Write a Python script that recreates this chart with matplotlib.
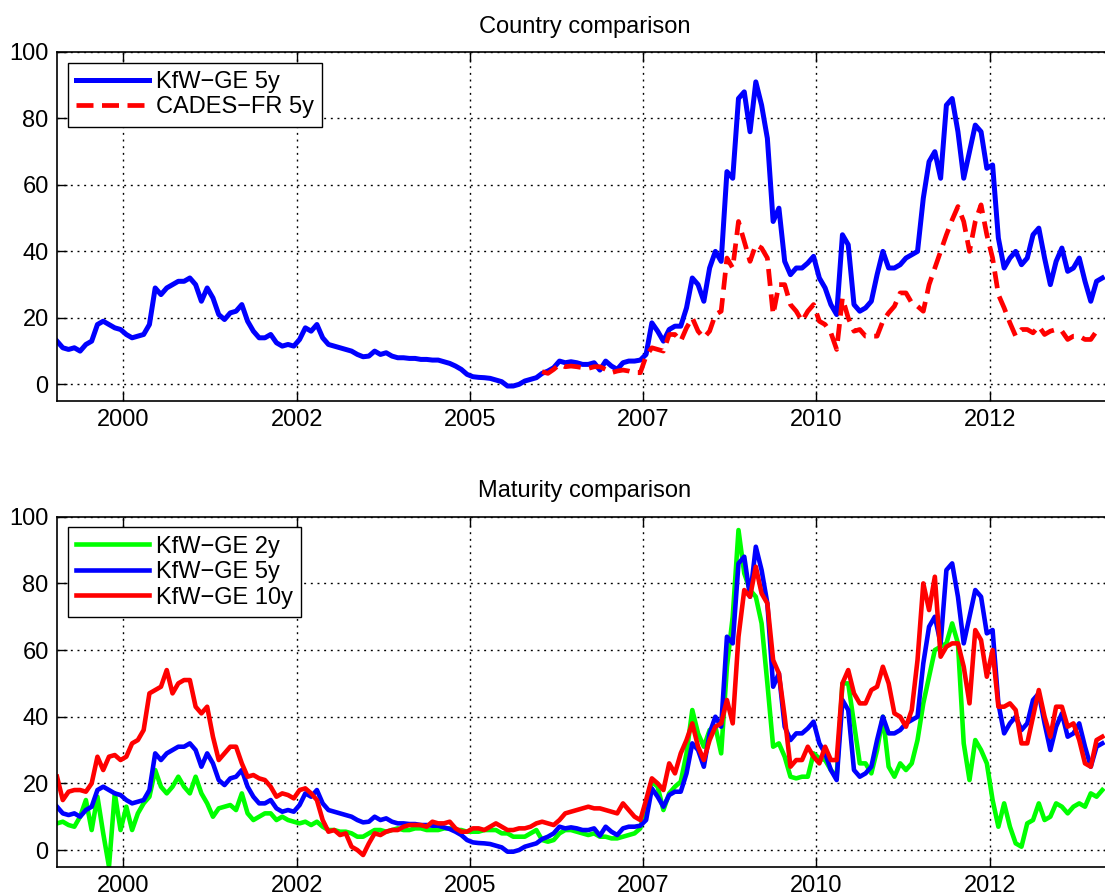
import numpy as np
import matplotlib.pyplot as plt

plt.rcParams['font.family'] = ['Liberation Sans', 'DejaVu Sans']

# Monthly spreads in bp, Jan 1999 - Feb 2014
kfw_5y = [13, 11, 10.5, 11, 10, 12, 13, 18, 19, 18,
          17, 16.5, 15, 14, 14.5, 15, 18, 29, 27, 29,
          30, 31, 31, 32, 30, 25, 29, 26, 21, 19.5,
          21.5, 22, 24, 19, 16, 14, 14, 15, 12.5, 11.5,
          12, 11.5, 13.5, 17, 16, 18, 14, 12, 11.5, 11,
          10.5, 10, 9, 8.3, 8.5, 10, 9, 9.5, 8.5, 8,
          8, 7.8, 7.8, 7.5, 7.5, 7.3, 7.3, 6.8, 6.3, 5.5,
          4.5, 3, 2.3, 2.1, 2, 1.8, 1.3, 0.8, -0.5, -0.5,
          0, 1, 1.5, 2, 3.3, 4, 5, 7, 6.5, 6.8,
          6.5, 6, 6, 6.5, 4.3, 7, 5.5, 4.5, 6.5, 7,
          7, 7.3, 9, 18.5, 16, 13, 16.5, 17.5, 17.5, 23,
          32, 30, 25, 35, 40, 37, 64, 62, 86, 88,
          76, 91, 84, 74, 49, 53, 37, 33, 35, 35,
          36.5, 38.5, 32, 29, 24, 21, 45, 42, 24, 22,
          23, 25, 33, 40, 35, 35, 36, 38, 39, 40,
          56, 67, 70, 62, 84, 86, 76, 62, 70, 78,
          76, 65, 66, 44, 35, 38, 40, 36, 38, 45,
          47, 38, 30, 37, 41, 34, 35, 38, 31, 25,
          31, 32]

kfw_2y = [8, 8.5, 7.5, 7, 10, 15, 6, 16, 5, -5,
          17, 6, 13, 6, 11, 14, 16, 24, 19, 17,
          19, 22, 19, 17, 22, 17, 14, 10, 12.5, 13,
          13.5, 12, 17, 11, 9, 10, 11, 11, 9, 10,
          9, 8.5, 8, 8.5, 7.5, 8.5, 7, 6, 6, 5.5,
          5.5, 5, 4, 4, 5, 6, 6, 5.5, 6, 6.5,
          6, 6, 6.5, 6.5, 6, 6, 6, 6.5, 6.5, 6,
          6, 5.5, 5.5, 5.5, 6, 6, 6, 5, 5, 4,
          4, 4, 5, 6, 3, 2.5, 3, 5, 6, 6,
          5.5, 5, 4.5, 5, 4, 4, 3.5, 3.5, 4, 4.5,
          5, 6.5, 14, 20.5, 19, 12, 17, 19, 20.5, 29,
          42, 35, 31, 36, 37, 29, 55, 70, 96, 83,
          78, 76, 68, 50, 31, 32, 28, 22, 21.5, 22,
          22, 29, 27.5, 27, 24, 22, 50, 50, 38, 26,
          26, 23, 30, 40, 25, 22, 26, 24, 26, 33,
          44, 52, 60, 61, 62, 68, 62, 32, 21, 33,
          30, 26, 15, 7, 14, 7, 2, 1, 8, 9,
          14, 9, 10, 14, 13, 11, 13, 14, 13, 17,
          16, 18]

kfw_10y = [22, 15, 17.5, 18, 18, 17.5, 20, 28, 24, 28,
           28.5, 27, 28, 32, 33, 36, 47, 48, 49, 54,
           47, 50, 51, 51, 43, 41, 43, 34, 27, 29,
           31, 31, 26, 22, 22.5, 21.5, 21, 19, 16, 17,
           16.5, 15.5, 18, 18.5, 17, 15, 9, 5.5, 6, 4.5,
           5, 1, 0, -1.5, 2, 5, 4.5, 5.5, 6, 6,
           7, 7.5, 7.5, 7.5, 7, 8.5, 8, 8, 8.5, 6.5,
           5.5, 5.5, 6.5, 6.5, 6, 7, 8, 7, 6, 6,
           6.5, 6.5, 7, 8, 8.5, 8, 7.5, 9, 11, 11.5,
           12, 12.5, 13, 12.5, 12.5, 12, 11.5, 11, 14, 12,
           10, 9, 15, 21.5, 20, 18, 26, 23, 29, 33,
           38, 31, 27, 33, 37, 38, 45, 38, 64, 78,
           76, 85, 77, 74, 57, 53, 40, 25, 27, 27,
           31, 28, 26, 31, 27, 27, 50, 54, 47, 44,
           44, 48, 49, 55, 50, 41, 40, 37, 42, 57,
           80, 72, 82, 58, 61, 62, 62, 55, 44, 66,
           63, 52, 60, 43, 43, 44, 42, 32, 32, 40,
           48, 40, 34, 43, 43, 37, 38, 33, 26, 25,
           33, 34]

# CADES quotes start in Jan 2006
cades_5y = [3.8, 3.3, 4.5, 6, 5.3, 5.5,
            5.3, 5, 4.8, 5.3, 5.3, 4.5, 3.5, 4, 4.3, 4,
            3.5, 3.5, 8.5, 11, 10.5, 10, 15, 15, 13, 17,
            20, 16, 14, 16, 21, 22, 38, 35, 49, 43,
            37, 42, 41, 38, 21, 30, 30, 24, 22, 19,
            22, 24, 19, 18, 15.5, 10.5, 26, 20, 16, 16.5,
            14.5, 14.5, 14.5, 19, 21.5, 23.5, 27.5, 27.5, 24.5, 23.5,
            22, 30, 35, 40, 45, 49.5, 53.5, 49, 40, 49,
            54, 45, 38, 27, 23, 18.5, 14.5, 16.5, 16.5, 15.5,
            17.5, 15, 16, 16.5, 16, 13.5, 14.5, 14.5, 13.5, 13.5,
            16, 15.5]

months = 1999 + (np.arange(len(kfw_5y)) + 0.5) / 12
tick_years = [2000, 2002.5, 2005, 2007.5, 2010, 2012.5]
tick_labels = ["2000", "2002", "2005", "2007", "2010", "2012"]


def style_axes(ax, title):
    ax.set_xlim(months[0], 2014.28)
    ax.set_ylim(-5, 100)
    ax.set_yticks([0, 20, 40, 60, 80, 100])
    ax.set_xticks(tick_years)
    ax.set_xticklabels(tick_labels)
    ax.tick_params(direction="in", length=7, width=1, top=True, right=True,
                   labelsize=17, pad=6, colors="black")
    ax.set_axisbelow(True)
    ax.grid(True, color="black", linestyle=(0, (1.4, 3.4)), linewidth=1.0)
    for s in ax.spines.values():
        s.set_linewidth(1.2)
    ax.set_title(title, fontsize=17, pad=14)


def add_legend(ax):
    leg = ax.legend(loc="upper left", fontsize=17, fancybox=False,
                    edgecolor="black", framealpha=1, handlelength=3.1,
                    handletextpad=0.3, labelspacing=0.15, borderpad=0.35,
                    borderaxespad=0.45)
    leg.get_frame().set_linewidth(1.0)


fig = plt.figure(figsize=(11.05, 8.96), dpi=100)

# Country comparison
ax1 = fig.add_axes([0.0516, 0.5525, 0.9557, 0.3895])
ax1.plot(months, kfw_5y, color="blue", lw=3.6, label="KfW\u2212GE 5y")
ax1.plot(months[-len(cades_5y):], cades_5y, color="red", lw=3.4,
         linestyle=(0, (3.6, 1.8)), label="CADES\u2212FR 5y")
style_axes(ax1, "Country comparison")
add_legend(ax1)

# Maturity comparison
ax2 = fig.add_axes([0.0516, 0.0327, 0.9557, 0.3906])
ax2.plot(months, kfw_2y, color="#00ff00", lw=3.3, label="KfW\u2212GE 2y")
ax2.plot(months, kfw_5y, color="blue", lw=3.3, label="KfW\u2212GE 5y")
ax2.plot(months, kfw_10y, color="red", lw=3.3, label="KfW\u2212GE 10y")
style_axes(ax2, "Maturity comparison")
add_legend(ax2)

fig.savefig("out.png", dpi=100)
